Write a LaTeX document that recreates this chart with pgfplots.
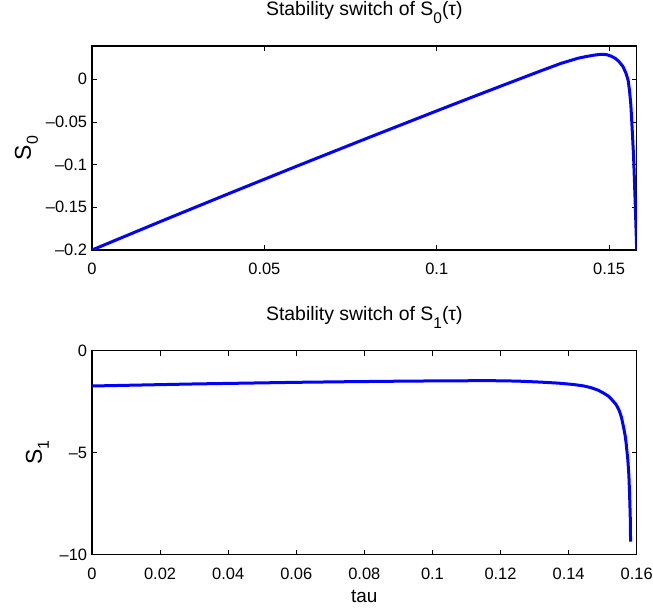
\documentclass[border=0pt]{standalone}
\usepackage{fontspec}
\setmainfont{Liberation Sans}
\usepackage{pgfplots}
\pgfplotsset{compat=1.18}
\newcommand{\sub}[3]{\raisebox{-#2}{\fontsize{#3}{#3}\selectfont #1}}
\begin{document}
\begin{tikzpicture}
\useasboundingbox (-92bp,-359bp) rectangle (561bp,250bp);
\pgfplotsset{
  every axis/.append style={
    scale only axis, width=544.7bp, height=204bp,
    axis line style={line width=1.3bp, black},
    tick style={line width=0.8bp, black},
    major tick length=5bp,
    tick align=inside,
    ticklabel style={font=\fontsize{16.5}{18}\selectfont},
    yticklabel style={anchor=east, inner sep=0pt, xshift=-4.7bp},
    xticklabel style={anchor=north, inner sep=0pt, yshift=-13bp},
    title style={font=\fontsize{19.5}{20}\selectfont, inner sep=0pt, anchor=south},
    ylabel style={font=\fontsize{23}{24}\selectfont, inner sep=0pt, anchor=center},
    xlabel style={font=\fontsize{19}{20}\selectfont, inner sep=0pt, anchor=north,
      at={([yshift=-35.3bp]axis description cs:0.5,0)}},
  }
}
\begin{axis}[
  at={(0,0)},
  xmin=0, xmax=0.158, ymin=-0.2, ymax=0.039,
  xtick={0,0.05,0.1,0.15}, xticklabels={0,0.05,0.1,0.15},
  ytick={-0.2,-0.15,-0.1,-0.05,0}, yticklabels={–0.2,–0.15,–0.1,–0.05,0},
  title={Stability switch of S\sub{0}{8bp}{15.5}(τ)},
  title style={at={([yshift=16bp]axis description cs:0.5,1)}},
  ylabel={S\sub{0}{7bp}{16}},
  ylabel style={at={([xshift=-65.5bp]axis description cs:0,0.5)}},
]
\addplot[color={rgb,255:red,0;green,0;blue,255}, line width=3bp, line join=round] coordinates {
(0,-0.2) (0.02,-0.1664) (0.04,-0.1334) (0.06,-0.1008) (0.08,-0.0687) (0.10,-0.037)
(0.11,-0.0213) (0.12,-0.0058) (0.13,0.0096) (0.136,0.0186) (0.1409,0.0246)
(0.1435,0.0268) (0.1457,0.0283) (0.147,0.0290) (0.1481,0.0293) (0.1493,0.0288)
(0.1505,0.0272) (0.1518,0.0245) (0.1529,0.0206) (0.1540,0.0150) (0.1549,0.0070)
(0.1555,-0.0010) (0.1559,-0.0125) (0.1563,-0.030) (0.1566,-0.0516)
(0.1571,-0.0907) (0.1576,-0.149) (0.1580,-0.2) (0.1582,-0.26)
};
\end{axis}
\begin{axis}[
  at={(0,-304.7bp)},
  xmin=0, xmax=0.16, ymin=-10, ymax=0,
  xtick={0,0.02,0.04,0.06,0.08,0.1,0.12,0.14,0.16},
  xticklabels={0,0.02,0.04,0.06,0.08,0.1,0.12,0.14,0.16},
  ytick={-10,-5,0}, yticklabels={–10,–5,0},
  title={Stability switch of S\sub{1}{8bp}{15.5}(τ)},
  title style={at={([yshift=16bp]axis description cs:0.5,1)}},
  ylabel={S\sub{1}{7bp}{16}},
  ylabel style={at={([xshift=-54.5bp]axis description cs:0,0.5)}},
  xlabel={tau},
]
\addplot[color={rgb,255:red,0;green,0;blue,255}, line width=3bp, line join=round] coordinates {
(0,-1.73) (0.015,-1.68) (0.03,-1.63) (0.045,-1.59) (0.06,-1.55) (0.075,-1.52)
(0.09,-1.495) (0.105,-1.475) (0.1176,-1.47) (0.125,-1.49) (0.1318,-1.54)
(0.137,-1.59) (0.1416,-1.66) (0.1445,-1.73) (0.1465,-1.81) (0.1486,-1.93)
(0.1504,-2.09) (0.1517,-2.23) (0.1528,-2.42) (0.1539,-2.63) (0.1548,-2.91)
(0.1555,-3.25) (0.1561,-3.72) (0.1566,-4.15) (0.1569,-4.54) (0.1574,-5.36)
(0.1577,-6.1) (0.1579,-6.99) (0.1581,-8.1) (0.1582,-9.36)
};
\end{axis}
\end{tikzpicture}
\end{document}
